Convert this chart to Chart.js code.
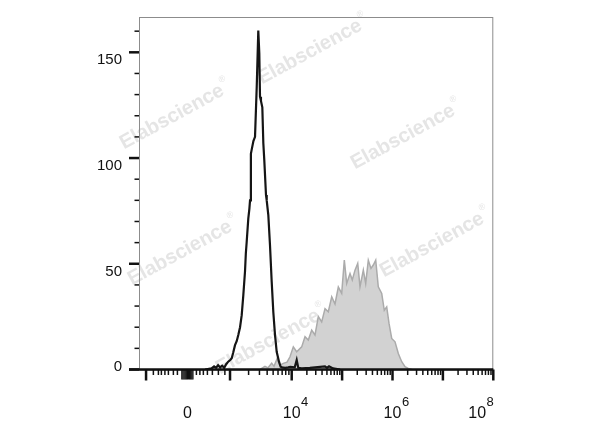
<!DOCTYPE html>
<html>
<head>
<meta charset="utf-8">
<script src="https://cdn.jsdelivr.net/npm/chart.js@4/dist/chart.umd.min.js"></script>
<style>
  html, body { margin: 0; padding: 0; background: #fff; }
  canvas { display: block; }
</style>
</head>
<body>
<canvas id="chart" width="600" height="427"></canvas>
<script>
// x is in display units: decades on the log part (10^4 -> 4), biex zero sits near 1.93
const ZERO = 1.93;

// unstained / isotype control (black outline)
const controlX = [2.28, 2.41, 2.46, 2.50, 2.54, 2.58, 2.62, 2.66, 2.70, 2.74, 2.78, 2.81, 2.84, 2.875, 2.91,
  2.94, 2.975, 3.008, 3.04, 3.073, 3.09, 3.107, 3.139, 3.16, 3.173, 3.19, 3.206, 3.24, 3.272, 3.306,
  3.337, 3.357, 3.371, 3.39, 3.417, 3.437, 3.456, 3.49, 3.504, 3.536, 3.569, 3.603, 3.635, 3.669,
  3.702, 3.748, 3.78, 3.81, 3.87, 3.93, 3.97, 4.06, 4.099, 4.13, 4.2, 4.36, 4.66, 4.70, 4.74, 4.82, 4.96];
const controlY = [0, 0.5, 1.5, 0.8, 2, 1, 1.8, 0.8, 2.5, 3.7, 4.5, 5.3, 8, 11.5, 13.5,
  16.3, 20, 25.7, 35.2, 46.2, 55, 60.4, 71.5, 76, 80, 102, 104, 108, 110, 133.7,
  160.3, 149.5, 129, 127, 124, 107, 99, 82.5, 80, 73, 58.9, 41.5, 27.2, 16.3,
  8.4, 3.7, 1.3, 1.0, 0.8, 1, 1.2, 1, 4.5, 0.8, 0.6, 0.8, 1.5, 0.8, 1.5, 0.5, 0];

// stained sample (grey filled)
const stainedX = [3.371, 3.47, 3.53, 3.603, 3.649, 3.708, 3.768, 3.833, 3.907, 3.966, 4.032, 4.099, 4.198,
  4.264, 4.329, 4.397, 4.462, 4.528, 4.595, 4.661, 4.726, 4.794, 4.859, 4.925, 4.992, 5.044, 5.091,
  5.157, 5.202, 5.256, 5.31, 5.355, 5.421, 5.468, 5.52, 5.573, 5.619, 5.667, 5.718, 5.786, 5.837,
  5.885, 5.931, 5.984, 6.05, 6.115, 6.183, 6.248, 6.313, 6.387];
const stainedY = [0, 1.5, 0.8, 3, 1.5, 5, 2, 2.9, 3.5, 6, 10.7, 8.4, 10.7,
  15.5, 13.9, 18.6, 16.3, 25, 22.5, 28.8, 27.3, 34.4, 31, 39, 36, 51.7, 40.7,
  45.4, 42.3, 47, 50.2, 39.1, 47, 40.7, 51.7, 47.8, 49.4, 51.7, 39.1, 36, 28,
  29.6, 21.8, 14.7, 13.1, 7.6, 3.7, 1.3, 0.5, 0];

const yMajorTicks = [0, 50, 100, 150];
const yMinorTicks = [10, 20, 30, 40, 60, 70, 80, 90, 110, 120, 130, 140, 160];

const xLabelValues = [ZERO, 4, 6, 8];
const xLabelBases = ["0", "10", "10", "10"];
const xLabelExps = ["", "4", "6", "8"];

// major ticks: -10^3, 10^3, 10^4 ... 10^8
const xMajorTicks = [1.11, 2.776, 4, 5, 6, 7, 8];
const xMinorTicks = [];
[-0.675, -0.575, -0.516, -0.446, -0.377, -0.278, -0.198,
  0.179, 0.248, 0.317, 0.397, 0.496, 0.615, 0.744].forEach(d => xMinorTicks.push(ZERO + d));
for (let m = 2; m <= 9; m++) {
  xMinorTicks.push(2.776 + 1.224 * Math.log10(m));
  for (let k = 4; k < 8; k++) xMinorTicks.push(k + Math.log10(m));
}
const xZeroCluster = [];
for (let i = -5; i <= 5; i++) xZeroCluster.push(ZERO + i * 0.022);

const toPoints = (xs, ys) => xs.map((x, i) => ({ x, y: ys[i] }));

const FONT = "'Liberation Sans', Arial, sans-serif";

const fcsAxes = {
  id: "fcsAxes",
  beforeDatasetsDraw(chart) {
    const ctx = chart.ctx;
    const marks = [[310, 52], [172, 117], [403, 137], [180, 253], [432, 245], [268, 342]];
    ctx.save();
    ctx.fillStyle = "#e5e5e5";
    marks.forEach(([cx, cy]) => {
      ctx.save();
      ctx.translate(cx, cy);
      ctx.rotate(-0.5);
      ctx.font = "bold 20px " + FONT;
      ctx.textAlign = "center";
      ctx.textBaseline = "middle";
      ctx.fillText("Elabscience", 0, 0);
      const w = ctx.measureText("Elabscience").width;
      ctx.font = "9px " + FONT;
      ctx.textAlign = "left";
      ctx.fillText("®", w / 2 + 1, -9);
      ctx.restore();
    });
    ctx.restore();
  },
  afterDatasetsDraw(chart) {
    const { ctx, chartArea: a, scales: { x, y } } = chart;
    const seg = (x1, y1, x2, y2) => { ctx.beginPath(); ctx.moveTo(x1, y1); ctx.lineTo(x2, y2); ctx.stroke(); };
    ctx.save();

    ctx.strokeStyle = "#8c8c8c";
    ctx.lineWidth = 1;
    ctx.strokeRect(a.left + 0.5, a.top + 0.5, a.right - a.left - 1, a.bottom - a.top);

    ctx.strokeStyle = "#111";
    ctx.lineWidth = 2.5;
    seg(a.left - 10, a.bottom, a.right, a.bottom);

    // y ticks
    yMajorTicks.forEach(v => { const p = y.getPixelForValue(v); ctx.lineWidth = 2.5; seg(a.left - 10, p, a.left, p); });
    yMinorTicks.forEach(v => { const p = y.getPixelForValue(v); ctx.lineWidth = 1.5; seg(a.left - 4.5, p, a.left, p); });

    // x ticks
    xMajorTicks.forEach(v => { const p = x.getPixelForValue(v); ctx.lineWidth = 2.5; seg(p, a.bottom, p, a.bottom + 11); });
    xMinorTicks.forEach(v => { const p = x.getPixelForValue(v); ctx.lineWidth = 1.5; seg(p, a.bottom, p, a.bottom + 5.5); });
    xZeroCluster.forEach(v => { const p = x.getPixelForValue(v); ctx.lineWidth = 1.3; seg(p, a.bottom, p, a.bottom + 10); });

    // y labels
    ctx.fillStyle = "#111";
    ctx.font = "15px " + FONT;
    ctx.textAlign = "right";
    ctx.textBaseline = "alphabetic";
    yMajorTicks.forEach(v => {
      const p = y.getPixelForValue(v);
      ctx.fillText(String(v), 122, p + (v === 0 ? 1.5 : 12));
    });

    // x labels
    ctx.textAlign = "left";
    xLabelValues.forEach((v, i) => {
      const p = x.getPixelForValue(v);
      ctx.font = "16px " + FONT;
      const wb = ctx.measureText(xLabelBases[i]).width;
      ctx.font = "13px " + FONT;
      const we = xLabelExps[i] ? ctx.measureText(xLabelExps[i]).width : 0;
      let left = p - wb / 2;
      if (left + wb + we > a.right) left = a.right - wb - we;
      ctx.font = "16px " + FONT;
      ctx.fillText(xLabelBases[i], left, 418);
      if (xLabelExps[i]) {
        ctx.font = "13px " + FONT;
        ctx.fillText(xLabelExps[i], left + wb + 0.5, 406);
      }
    });
    ctx.restore();
  }
};

new Chart(document.getElementById("chart"), {
  type: "line",
  data: {
    datasets: [
      {
        label: "Control",
        data: toPoints(controlX, controlY),
        borderColor: "#151515",
        borderWidth: 2.2,
        fill: false,
        order: 0,
      },
      {
        label: "Stained",
        data: toPoints(stainedX, stainedY),
        borderColor: "#ababab",
        backgroundColor: "#d2d2d2",
        borderWidth: 1.5,
        fill: "origin",
        order: 1,
      },
    ],
  },
  options: {
    responsive: false,
    animation: false,
    devicePixelRatio: 1,
    layout: { padding: { left: 139, top: 17, right: 106.7, bottom: 57.5 } },
    elements: { point: { radius: 0 }, line: { tension: 0 } },
    plugins: { legend: { display: false }, tooltip: { enabled: false } },
    scales: {
      x: { type: "linear", min: 0.97, max: 8, display: false },
      y: { type: "linear", min: 0, max: 166.7, display: false },
    },
  },
  plugins: [fcsAxes],
});
</script>
</body>
</html>
